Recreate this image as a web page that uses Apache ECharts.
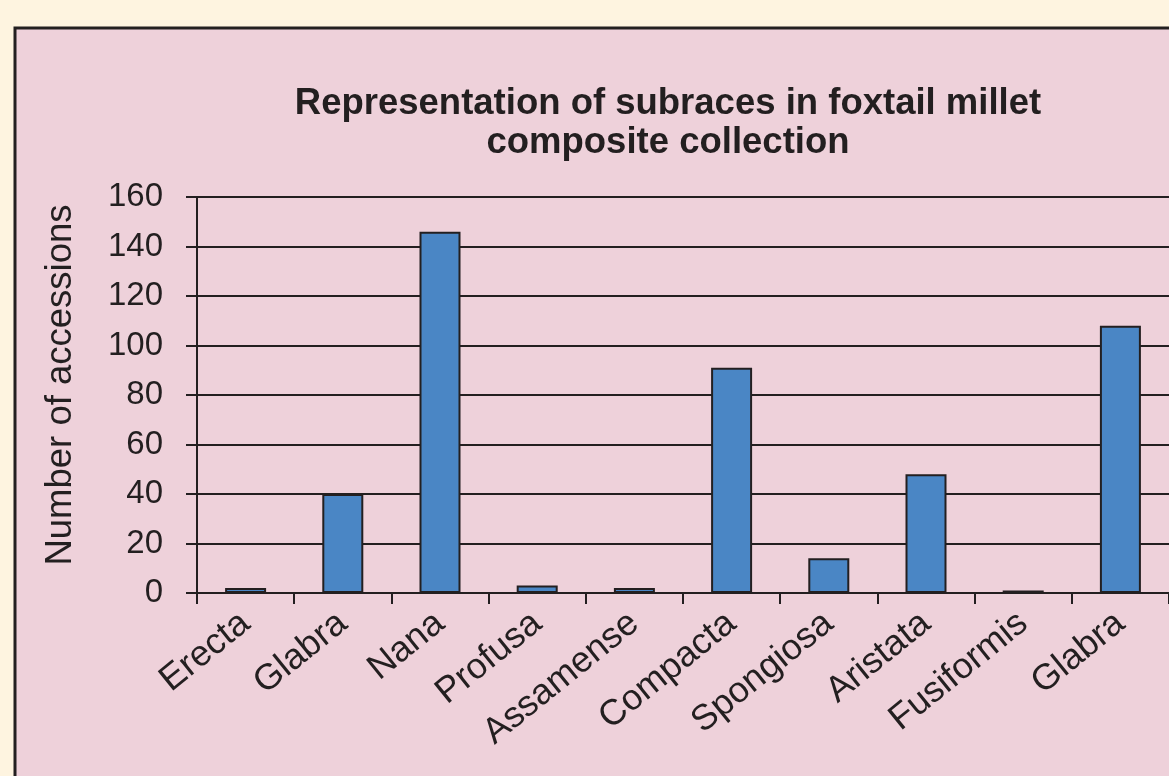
<!DOCTYPE html>
<html>
<head>
<meta charset="utf-8">
<script src="https://cdn.jsdelivr.net/npm/echarts@6/dist/echarts.min.js"></script>
<style>
html,body{margin:0;padding:0;background:#fef4e0;}
#c{width:1169px;height:776px;}
</style>
</head>
<body>
<div id="c"></div>
<script>
const categories = ['Erecta','Glabra','Nana','Profusa','Assamense','Compacta','Spongiosa','Aristata','Fusiformis','Glabra'];
const accessions = [2, 40, 146, 3, 2, 91, 14, 48, 1, 108];
const titleLines = ['Representation of subraces in foxtail millet', 'composite collection'];
const yAxisName = 'Number of accessions';

const ink = '#231f20';
const font = 'Liberation Sans, Arial, sans-serif';
const chart = echarts.init(document.getElementById('c'));
chart.setOption({
  backgroundColor: '#fef4e0',
  animation: false,
  graphic: [{
    type: 'rect', z: -10, silent: true,
    shape: {x: 15, y: 28, width: 1200, height: 800},
    style: {fill: '#eed1da', stroke: ink, lineWidth: 3}
  }],
  title: {
    text: titleLines.join('\n'),
    left: 663, top: 79, textAlign: 'center',
    textStyle: {fontFamily: font, fontWeight: 'bold', fontSize: 36.5, lineHeight: 39, color: ink}
  },
  grid: {left: 197, right: -8, top: 197, bottom: 183, containLabel: false},
  xAxis: {
    type: 'category',
    data: categories,
    axisLine: {lineStyle: {color: ink, width: 2}},
    axisTick: {show: true, length: 11, lineStyle: {color: ink, width: 2}},
    axisLabel: {rotate: 39, interval: 0, margin: 26, color: ink, fontSize: 36, fontFamily: font},
    splitLine: {show: false}
  },
  yAxis: {
    type: 'value', min: 0, max: 160, interval: 20,
    name: yAxisName, nameLocation: 'middle', nameGap: 118, nameRotate: 90,
    nameTextStyle: {color: ink, fontSize: 36.5, fontFamily: font, padding: [0, 0, 0, 20]},
    axisLine: {show: true, lineStyle: {color: ink, width: 2}},
    axisTick: {show: true, length: 11, lineStyle: {color: ink, width: 2}},
    axisLabel: {margin: 34, color: ink, fontSize: 33, fontFamily: font},
    splitLine: {show: true, lineStyle: {color: ink, width: 2}}
  },
  series: [{
    type: 'bar',
    data: accessions,
    barWidth: 41,
    itemStyle: {color: '#4a86c5', borderColor: ink, borderWidth: 2}
  }]
});
</script>
</body>
</html>
